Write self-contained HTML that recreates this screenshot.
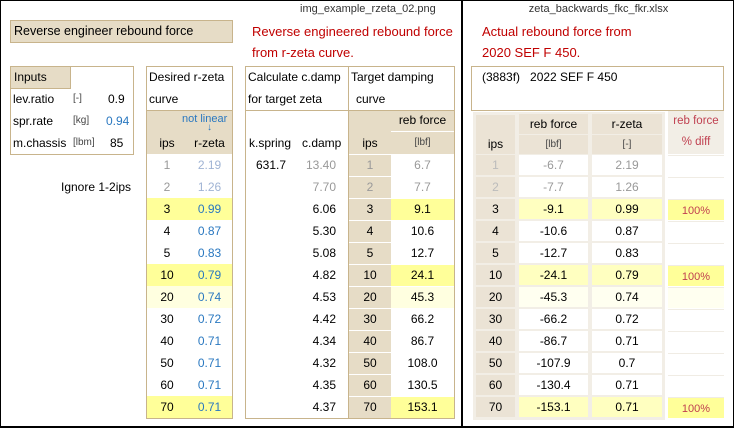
<!DOCTYPE html>
<html><head><meta charset="utf-8"><style>
body{margin:0;width:734px;height:428px;position:relative;background:#fff;font-family:"Liberation Sans","DejaVu Sans",sans-serif;font-size:12px;color:#000;overflow:hidden}
div{position:absolute;box-sizing:border-box}
.t{white-space:nowrap;line-height:22px}
.c{text-align:center}
.r{text-align:right}
.red{color:#c00000;font-size:13px}
.bx{border:1px solid #c8b48c}
.bg{background:#e6dcc6}
.blue{color:#2a78c0}
</style></head><body>
<div style="left:0;top:0;width:734px;height:428px;border:1px solid #000;border-bottom-width:2px"></div>
<div style="left:461px;top:0;width:2px;height:428px;background:#000"></div>
<div class="t" style="left:300px;top:-2px;font-size:11px;color:#333">img_example_rzeta_02.png</div>
<div class="t c" style="left:463px;top:-2px;width:271px;font-size:11px;color:#333">zeta_backwards_fkc_fkr.xlsx</div>

<div class="bx bg t" style="left:10px;top:20px;width:223px;height:23px;padding-left:3px;line-height:21px;font-size:12.5px">Reverse engineer rebound force</div>
<div class="t red" style="left:252px;top:21px">Reverse engineered rebound force</div>
<div class="t red" style="left:252px;top:42px">from r-zeta curve.</div>

<div class="bx" style="left:10px;top:66px;width:124px;height:89px"></div>
<div class="bx bg t" style="left:10px;top:66px;width:61px;height:23px;padding-left:3px;line-height:21px">Inputs</div>
<div class="t" style="left:13px;top:88px">lev.ratio</div><div class="t" style="left:73px;top:88px;font-size:10px;color:#444">[-]</div><div class="t" style="left:108px;top:88px">0.9</div>
<div class="t" style="left:13px;top:110px">spr.rate</div><div class="t" style="left:73px;top:110px;font-size:10px;color:#444">[kg]</div><div class="t blue" style="left:106px;top:110px">0.94</div>
<div class="t" style="left:13px;top:132px">m.chassis</div><div class="t" style="left:73px;top:132px;font-size:10px;color:#444">[lbm]</div><div class="t" style="left:110px;top:132px">85</div>
<div class="t" style="left:61px;top:176px">Ignore 1-2ips</div>

<div class="bx" style="left:146px;top:66px;width:87px;height:353px"></div>
<div class="t" style="left:149px;top:66px">Desired r-zeta</div>
<div class="t" style="left:149px;top:88px">curve</div>
<div class="bg" style="left:147px;top:110px;width:85px;height:44px;border-top:1px solid #c8b48c"></div>
<div class="t blue" style="left:182px;top:108px;font-size:11px">not linear</div>
<div class="blue" style="left:207px;top:123px;font-size:10px;line-height:10px">&#8595;</div>
<div class="t c" style="left:147px;top:132px;width:40px">ips</div>
<div class="t c" style="left:187px;top:132px;width:45px">r-zeta</div>

<div class="bx" style="left:245px;top:66px;width:210px;height:353px"></div>
<div style="left:348px;top:66px;width:1px;height:353px;background:#c8b48c"></div>
<div style="left:245px;top:110px;width:103px;height:1px;background:#c8b48c"></div>
<div class="t" style="left:248px;top:66px">Calculate c.damp</div>
<div class="t" style="left:248px;top:88px">for target zeta</div>
<div class="t" style="left:249px;top:132px">k.spring</div>
<div class="t" style="left:302px;top:132px">c.damp</div>
<div class="t" style="left:256px;top:154px">631.7</div>
<div class="t" style="left:351px;top:66px">Target damping</div>
<div class="t" style="left:356px;top:88px">curve</div>
<div class="bg" style="left:349px;top:110px;width:105px;height:308px;border-top:1px solid #c8b48c"></div>
<div class="t c" style="left:391px;top:110px;width:63px;border-bottom:1px solid #fff;line-height:21px">reb force</div>
<div class="t c" style="left:349px;top:132px;width:42px">ips</div>
<div class="t c" style="left:391px;top:132px;width:63px;font-size:10px;color:#444">[lbf]</div>

<div class="t red" style="left:482px;top:21px">Actual rebound force from</div>
<div class="t red" style="left:482px;top:42px">2020 SEF F 450.</div>
<div class="bx" style="left:471px;top:66px;width:253px;height:45px"></div>
<div class="t" style="left:482px;top:66px">(3883f)&nbsp;&nbsp; 2022 SEF F 450</div>
<div style="left:473px;top:112px;width:192px;height:308px;background:#f2eee6"></div>
<div style="left:476px;top:115px;width:39px;height:39px;background:#ebe3d5"></div>
<div class="t c" style="left:519px;top:114px;width:69px;height:20px;background:#ebe3d5;line-height:20px">reb force</div>
<div class="t c" style="left:592px;top:114px;width:70px;height:20px;background:#ebe3d5;line-height:20px">r-zeta</div>
<div class="t c" style="left:476px;top:134px;width:39px;height:20px;line-height:20px">ips</div>
<div class="t c" style="left:519px;top:135px;width:69px;height:19px;background:#ebe3d5;line-height:19px;font-size:10px;color:#444">[lbf]</div>
<div class="t c" style="left:592px;top:135px;width:70px;height:19px;background:#ebe3d5;line-height:19px;font-size:10px;color:#444">[-]</div>
<div class="t c" style="left:668px;top:111px;width:56px;height:43px;background:#f2eee6;line-height:21px;color:#c04050;font-size:11.5px">reb force<br>% diff</div>
<div id="rows"></div>
<script>
var ips=[1,2,3,4,5,10,20,30,40,50,60,70];
var rz=["2.19","1.26","0.99","0.87","0.83","0.79","0.74","0.72","0.71","0.71","0.71","0.71"];
var cd=["13.40","7.70","6.06","5.30","5.08","4.82","4.53","4.42","4.34","4.32","4.35","4.37"];
var rb=["6.7","7.7","9.1","10.6","12.7","24.1","45.3","66.2","86.7","108.0","130.5","153.1"];
var rr=["-6.7","-7.7","-9.1","-10.6","-12.7","-24.1","-45.3","-66.2","-86.7","-107.9","-130.4","-153.1"];
var rz2=["2.19","1.26","0.99","0.87","0.83","0.79","0.74","0.72","0.71","0.7","0.71","0.71"];
var h="";
for(var i=0;i<12;i++){
 var y=154+22*i;
 var hl=(i==2||i==5||i==11)?"#ffff99":(i==6?"#ffffe0":"");
 var hr=(i==2||i==5||i==11)?"#ffffc0":(i==6?"#fffff0":"#fff");
 var g=i<2;
 if(hl) h+='<div style="left:147px;top:'+y+'px;width:85px;height:22px;background:'+hl+'"></div>';
 h+='<div class="t c" style="left:147px;top:'+y+'px;width:40px;color:'+(g?'#999':'#000')+'">'+ips[i]+'</div>';
 h+='<div class="t c" style="left:187px;top:'+y+'px;width:45px;color:'+(g?'#a0b4d4':'#2a78c0')+'">'+rz[i]+'</div>';
 h+='<div class="t r" style="left:290px;top:'+y+'px;width:46px;color:'+(g?'#999':'#000')+'">'+cd[i]+'</div>';
 h+='<div style="left:349px;top:'+y+'px;width:105px;height:1px;background:#fff"></div>';
 h+='<div class="t c" style="left:349px;top:'+y+'px;width:42px;color:'+(g?'#999':'#000')+'">'+ips[i]+'</div>';
 h+='<div class="t c" style="left:391px;top:'+(y+1)+'px;width:63px;height:21px;line-height:21px;background:'+(hl||'#fff')+';color:'+(g?'#999':'#000')+'">'+rb[i]+'</div>';
 var yy=y+1;
 h+='<div class="t c" style="left:476px;top:'+yy+'px;width:39px;height:20px;line-height:20px;background:#ebe3d5;color:'+(g?'#bbb':'#000')+'">'+ips[i]+'</div>';
 h+='<div class="t c" style="left:519px;top:'+yy+'px;width:69px;height:20px;line-height:20px;background:'+hr+';color:'+(g?'#999':'#000')+'">'+rr[i]+'</div>';
 h+='<div class="t c" style="left:592px;top:'+yy+'px;width:70px;height:20px;line-height:20px;background:'+hr+';color:'+(g?'#999':'#000')+'">'+rz2[i]+'</div>';
 var pc=(i==2||i==5||i==11);
 h+='<div class="t c" style="left:668px;top:'+yy+'px;width:56px;height:21px;line-height:22px;background:'+(pc?'#ffff99':(i==6?'#fffff0':'#fff'))+';color:#c04050;font-size:11px;border-top:1px solid #f0ece4">'+(pc?'100%':'')+'</div>';
}
document.getElementById("rows").outerHTML=h;
</script>
</body></html>
